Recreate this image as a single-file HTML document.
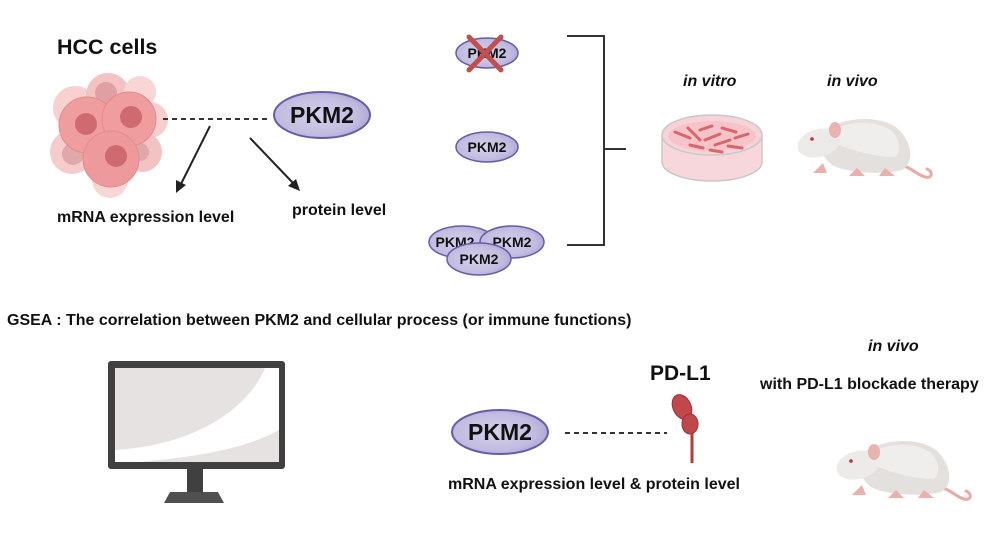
<!DOCTYPE html>
<html><head><meta charset="utf-8"><style>
html,body{margin:0;padding:0;background:#fff;}
svg text{font-family:"Liberation Sans",Arial,sans-serif;font-weight:bold;fill:#111;}
</style></head><body>
<svg width="996" height="553" viewBox="0 0 996 553" xmlns="http://www.w3.org/2000/svg">
<defs>
<radialGradient id="pk" cx="0.45" cy="0.5" r="0.6">
<stop offset="0" stop-color="#d4d0ea"/><stop offset="0.7" stop-color="#c2bce0"/><stop offset="1" stop-color="#aaa2d2"/>
</radialGradient>
<g id="mouse">
<path d="M98,50 C115,54 120,62 128,64 C136,66 136,58 130,56" fill="none" stroke="#e9a9a5" stroke-width="3" stroke-linecap="round"/>
<path d="M25,20 C40,5 80,0 100,15 C115,28 118,50 105,57 C85,62 50,60 35,52 C25,45 20,30 25,20 Z" fill="#e4e0de"/>
<path d="M35,18 C50,8 78,6 95,18 C104,28 104,40 98,44 C80,44 55,38 38,30 Z" fill="#f0eeed"/>
<ellipse cx="22" cy="30" rx="22" ry="14" transform="rotate(-15 22 30)" fill="#ecebe9"/>
<ellipse cx="38" cy="17" rx="6" ry="8" fill="#e9b3b0"/>
<circle cx="15" cy="26" r="1.8" fill="#c9303a"/>
<path d="M26,50 L16,60 L30,60 Z M60,55 L52,63 L68,63 Z M88,55 L82,63 L98,63 Z" fill="#eab0ab"/>
</g>
</defs>

<!-- HCC cells -->
<text x="57" y="54" font-size="21.5">HCC cells</text>
<g>
<circle cx="75" cy="108" r="22" fill="#f7d0cf"/>
<circle cx="108" cy="95" r="22" fill="#f3c3c3"/>
<circle cx="140" cy="92" r="16" fill="#f7d6d5"/>
<circle cx="150" cy="120" r="18" fill="#f5cfce"/>
<circle cx="72" cy="152" r="22" fill="#f5cccc"/>
<circle cx="142" cy="152" r="20" fill="#f1c3c3"/>
<circle cx="110" cy="180" r="18" fill="#f7d7d6"/>
<circle cx="106" cy="93" r="11" fill="#dea0a2"/>
<circle cx="73" cy="154" r="11" fill="#e0a8a9"/>
<circle cx="140" cy="152" r="9" fill="#e0a8a9"/>
<circle cx="87" cy="125" r="28" fill="#ef9d9f" stroke="#e58a8d" stroke-width="1"/>
<circle cx="129" cy="119" r="27" fill="#ef9d9f" stroke="#e58a8d" stroke-width="1"/>
<circle cx="111" cy="159" r="28" fill="#ee9a9c" stroke="#e58a8d" stroke-width="1"/>
<circle cx="86" cy="124" r="11" fill="#cf6b70"/>
<circle cx="131" cy="117" r="11" fill="#cf6b70"/>
<circle cx="116" cy="156" r="11" fill="#cf6b70"/>
</g>
<line x1="163" y1="119" x2="270" y2="119" stroke="#333" stroke-width="2" stroke-dasharray="5,4"/>
<ellipse cx="322" cy="115" rx="48" ry="23" fill="url(#pk)" stroke="#6a5ba8" stroke-width="2"/>
<text x="322" y="123" font-size="23" text-anchor="middle">PKM2</text>
<line x1="210" y1="126" x2="181" y2="184" stroke="#222" stroke-width="2"/>
<path d="M176,193 L176,180 L186,185 Z" fill="#222"/>
<line x1="250" y1="138" x2="293" y2="183" stroke="#222" stroke-width="2"/>
<path d="M300,191 L288,186 L296,179 Z" fill="#222"/>
<text x="57" y="222" font-size="16">mRNA expression level</text>
<text x="292" y="215" font-size="16">protein level</text>

<!-- PKM2 variants -->
<ellipse cx="487" cy="53" rx="31" ry="15" fill="url(#pk)" stroke="#6a5ba8" stroke-width="1.5"/>
<text x="487" y="58" font-size="14" text-anchor="middle">PKM2</text>
<line x1="469" y1="37" x2="501" y2="70" stroke="#c0504d" stroke-width="5" stroke-linecap="round"/>
<line x1="501" y1="37" x2="469" y2="70" stroke="#c0504d" stroke-width="5" stroke-linecap="round"/>
<ellipse cx="487" cy="147" rx="31" ry="15" fill="url(#pk)" stroke="#6a5ba8" stroke-width="1.5"/>
<text x="487" y="152" font-size="14" text-anchor="middle">PKM2</text>
<ellipse cx="462" cy="242" rx="33" ry="16" fill="url(#pk)" stroke="#6a5ba8" stroke-width="1.5"/>
<text x="455" y="247" font-size="14" text-anchor="middle">PKM2</text>
<ellipse cx="512" cy="242" rx="32" ry="16" fill="url(#pk)" stroke="#6a5ba8" stroke-width="1.5"/>
<text x="512" y="247" font-size="14" text-anchor="middle">PKM2</text>
<ellipse cx="479" cy="259" rx="32" ry="16" fill="url(#pk)" stroke="#6a5ba8" stroke-width="1.5"/>
<text x="479" y="264" font-size="14" text-anchor="middle">PKM2</text>

<path d="M567,36 H604 V245 H567 M604,149 H626" fill="none" stroke="#333" stroke-width="2"/>

<text x="683" y="86" font-size="16" font-style="italic">in vitro</text>
<text x="827" y="86" font-size="16" font-style="italic">in vivo</text>
<!-- petri dish -->
<path d="M662,135 V162 A50,19 0 0 0 762,162 V135" fill="#f7d6dc" stroke="#c8c8c8" stroke-width="1.5"/>
<ellipse cx="712" cy="135" rx="50" ry="20" fill="#f8d2d7" stroke="#c9c9c9" stroke-width="1.5"/>
<ellipse cx="712" cy="136" rx="44" ry="15" fill="#f5c4cb"/>
<g stroke="#d9666b" stroke-width="3" stroke-linecap="round">
<line x1="675" y1="132" x2="690" y2="138"/><line x1="688" y1="128" x2="700" y2="140"/>
<line x1="700" y1="130" x2="712" y2="126"/><line x1="705" y1="140" x2="720" y2="134"/>
<line x1="715" y1="145" x2="730" y2="140"/><line x1="722" y1="128" x2="736" y2="132"/>
<line x1="735" y1="138" x2="748" y2="134"/><line x1="690" y1="145" x2="703" y2="148"/>
<line x1="728" y1="146" x2="742" y2="148"/><line x1="710" y1="150" x2="722" y2="152"/>
</g>
<use href="#mouse" transform="translate(797,113)"/>

<text x="7" y="325" font-size="16">GSEA : The correlation between PKM2 and cellular process (or immune functions)</text>

<!-- monitor -->
<rect x="108" y="361" width="177" height="108" rx="3" fill="#404040"/>
<rect x="115" y="368" width="164" height="94" fill="#e6e2e1"/>
<path d="M115,450 C200,445 250,405 265,368 H279 V430 C240,452 180,458 140,462 H115 Z" fill="#fff"/>
<rect x="187" y="469" width="16" height="24" fill="#404040"/>
<path d="M170,492 H218 L224,503 H164 Z" fill="#505050"/>

<!-- bottom PKM2 / PD-L1 -->
<ellipse cx="500" cy="432" rx="48" ry="22" fill="url(#pk)" stroke="#6a5ba8" stroke-width="2"/>
<text x="500" y="440" font-size="23" text-anchor="middle">PKM2</text>
<line x1="565" y1="433" x2="667" y2="433" stroke="#333" stroke-width="2" stroke-dasharray="5,4"/>
<text x="650" y="380" font-size="21">PD-L1</text>
<line x1="692" y1="425" x2="692" y2="463" stroke="#b33b3b" stroke-width="3"/>
<ellipse cx="682" cy="407" rx="9" ry="13" transform="rotate(-25 682 407)" fill="#c0474a" stroke="#9e3034" stroke-width="1"/>
<ellipse cx="690" cy="424" rx="8" ry="10" fill="#c0474a" stroke="#9e3034" stroke-width="1"/>
<text x="448" y="489" font-size="16">mRNA expression level &amp; protein level</text>
<text x="868" y="351" font-size="16" font-style="italic">in vivo</text>
<text x="760" y="389" font-size="16">with PD-L1 blockade therapy</text>
<use href="#mouse" transform="translate(836,435)"/>
</svg>
</body></html>
